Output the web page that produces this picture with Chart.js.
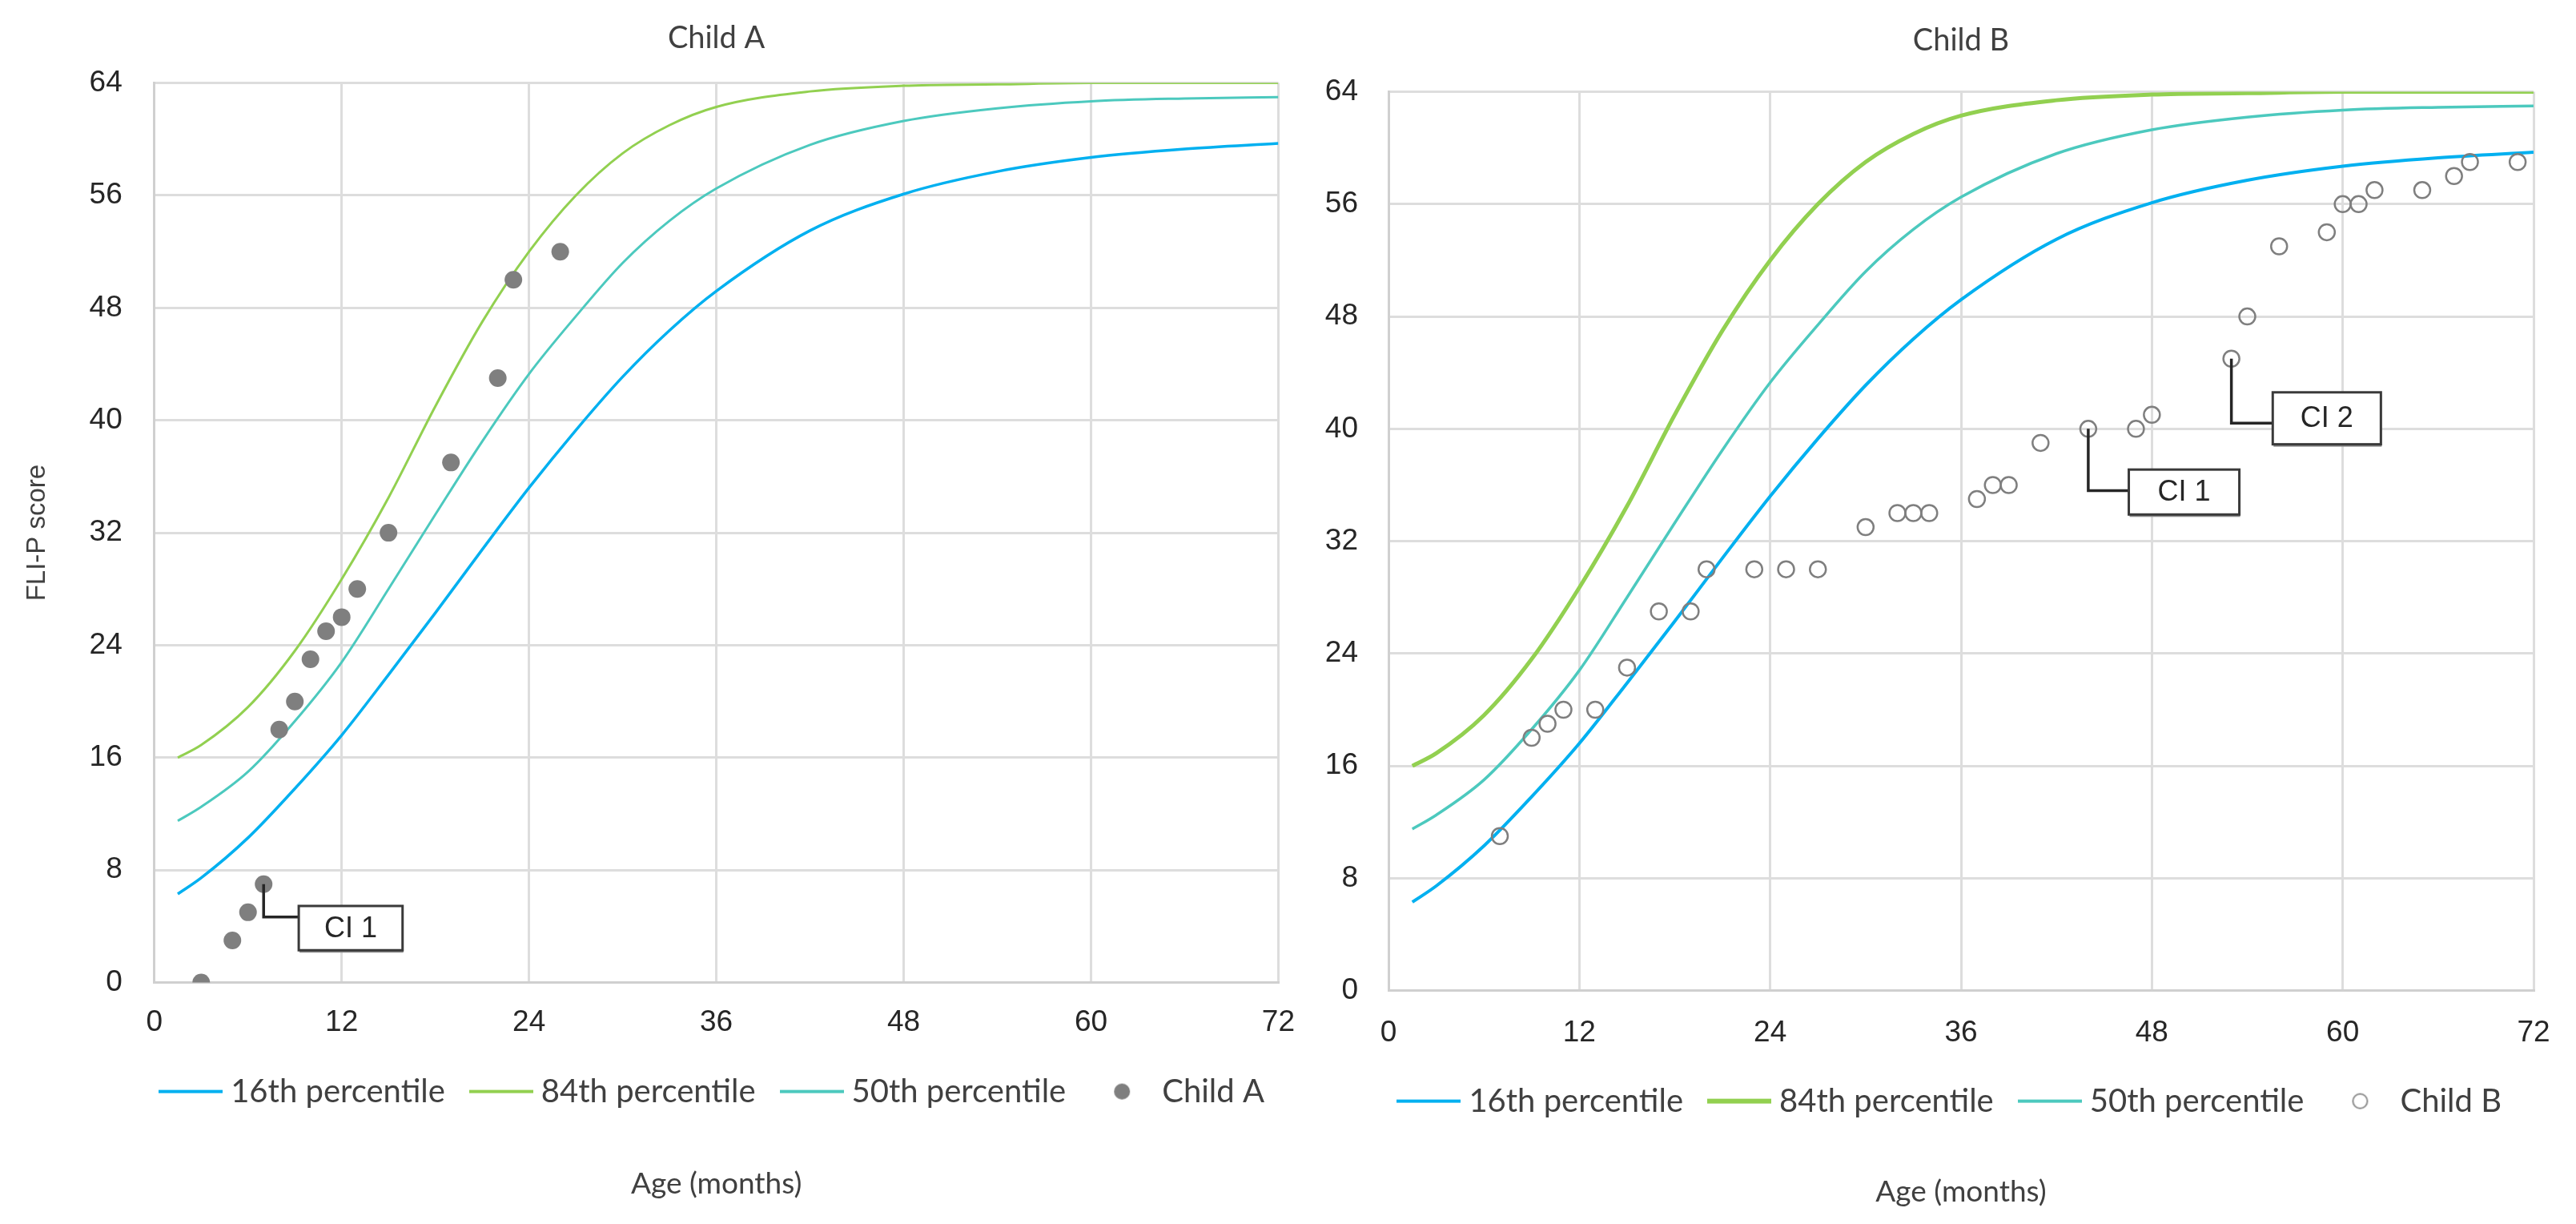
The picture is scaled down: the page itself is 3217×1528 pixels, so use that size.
<!DOCTYPE html>
<html>
<head>
<meta charset="utf-8">
<script src="https://cdn.jsdelivr.net/npm/chart.js@4.4.1/dist/chart.umd.min.js"></script>
<style>
body { margin: 0; background: #fff; }
#wrap { display: flex; width: 3217px; height: 1528px; }
canvas { display: block; }
</style>
</head>
<body>
<div id="wrap">
  <canvas id="chartA" width="1645" height="1528"></canvas>
  <canvas id="chartB" width="1572" height="1528"></canvas>
</div>
<script>
// reference curves, same for both children
const months = [1.5, 3, 6, 9, 12, 15, 18, 21, 24, 27, 30, 33, 36, 42, 48, 54, 60, 66, 72];
const p16 = [6.3, 7.45, 10.3, 13.8, 17.6, 21.9, 26.3, 30.8, 35.2, 39.3, 43.1, 46.4, 49.2, 53.5, 56.1, 57.7, 58.7, 59.3, 59.7];
const p84 = [16.0, 16.9, 19.6, 23.6, 28.7, 34.5, 41.0, 47.0, 52.0, 56.0, 59.0, 61.0, 62.3, 63.4, 63.8, 63.9, 64.0, 64.0, 64.0];
const p50 = [11.5, 12.5, 15.0, 18.6, 22.8, 28.0, 33.3, 38.5, 43.3, 47.4, 51.2, 54.2, 56.5, 59.6, 61.3, 62.2, 62.7, 62.9, 63.0];

const childAAge = [3, 5, 6, 7, 8, 9, 10, 11, 12, 13, 15, 19, 22, 23, 26];
const childAScore = [0, 3, 5, 7, 18, 20, 23, 25, 26, 28, 32, 37, 43, 50, 52];

const childBAge = [7, 9, 10, 11, 13, 15, 17, 19, 20, 23, 25, 27, 30, 32, 33, 34, 37, 38, 39, 41, 44, 47, 48, 53, 54, 56, 59, 60, 61, 62, 65, 67, 68, 71];
const childBScore = [11, 18, 19, 20, 20, 23, 27, 27, 30, 30, 30, 30, 33, 34, 34, 34, 35, 36, 36, 39, 40, 40, 41, 45, 48, 53, 54, 56, 56, 57, 57, 58, 59, 59];

const xTicks = [0, 12, 24, 36, 48, 60, 72];
const yTicks = [0, 8, 16, 24, 32, 40, 48, 56, 64];

// callouts: label, point it hangs from, elbow height, box [x0, x1, yTop, yBottom] in data units
const calloutsA = [
    {text: 'CI 1', point: [7, 7], elbow: 4.67, box: [9.25, 15.9, 5.45, 2.3]}
];
const calloutsB = [
    {text: 'CI 1', point: [44, 40], elbow: 35.6, box: [46.55, 53.5, 37.1, 33.9]},
    {text: 'CI 2', point: [53, 45], elbow: 40.4, box: [55.6, 62.4, 42.6, 38.9]}
];

const BLUE = '#00B0F0';
const GREEN = '#92D050';
const TEAL = '#4CC9BE';
const GREY = '#7F7F7F';
const TXT = '#404040';

function lineIcon(color, width) {
    const c = document.createElement('canvas');
    c.width = 80; c.height = 8;
    const g = c.getContext('2d');
    g.fillStyle = color;
    g.fillRect(0, (8 - width) / 2, 80, width);
    return c;
}

function dotIcon(filled) {
    const c = document.createElement('canvas');
    c.width = 24; c.height = 24;
    const g = c.getContext('2d');
    g.beginPath();
    g.arc(12, 12, filled ? 10 : 9, 0, Math.PI * 2);
    if (filled) {
        g.fillStyle = GREY;
        g.fill();
    } else {
        g.strokeStyle = '#8C8C8C';
        g.lineWidth = 2;
        g.stroke();
    }
    return c;
}

function calloutPlugin(items) {
    return {
        id: 'callouts',
        afterDatasetsDraw(chart) {
            const {ctx, scales: {x, y}} = chart;
            ctx.save();
            items.forEach(c => {
                const px = x.getPixelForValue(c.point[0]);
                const py = y.getPixelForValue(c.point[1]);
                const ey = y.getPixelForValue(c.elbow);
                const bx0 = x.getPixelForValue(c.box[0]);
                const bx1 = x.getPixelForValue(c.box[1]);
                const by0 = y.getPixelForValue(c.box[2]);
                const by1 = y.getPixelForValue(c.box[3]);
                ctx.strokeStyle = '#262626';
                ctx.lineWidth = 3.5;
                ctx.beginPath();
                ctx.moveTo(px, py);
                ctx.lineTo(px, ey);
                ctx.lineTo(bx0, ey);
                ctx.stroke();
                // box with a small drop shadow
                ctx.fillStyle = '#8a8a8a';
                ctx.fillRect(bx0 + 1, by0 + 3, bx1 - bx0, by1 - by0);
                ctx.fillStyle = '#fff';
                ctx.fillRect(bx0, by0, bx1 - bx0, by1 - by0);
                ctx.strokeStyle = '#3a3a3a';
                ctx.lineWidth = 3;
                ctx.strokeRect(bx0, by0, bx1 - bx0, by1 - by0);
                ctx.fillStyle = '#262626';
                ctx.font = '36px "Liberation Sans", Arial, sans-serif';
                ctx.textAlign = 'center';
                ctx.textBaseline = 'middle';
                ctx.fillText(c.text, (bx0 + bx1) / 2, (by0 + by1) / 2 + 1);
            });
            ctx.restore();
        }
    };
}

function pts(xs, ys) {
    return xs.map((v, i) => ({x: v, y: ys[i]}));
}

function makeChart(id, s) {
    const icons = [lineIcon(BLUE, s.legendLine[0]), lineIcon(GREEN, s.legendLine[1]), lineIcon(TEAL, s.legendLine[2]), dotIcon(s.filled)];
    const yScale = {
        type: 'linear', min: 0, max: 64,
        afterBuildTicks: axis => { axis.ticks = yTicks.map(v => ({value: v})); },
        ticks: {padding: s.yPad, color: '#262626', font: {family: 'Liberation Sans', size: 37}},
        grid: {color: '#DDDDDD', lineWidth: 3, drawTicks: false},
        border: {color: '#D0D0D0', width: 3}
    };
    if (s.yTitle) {
        yScale.title = {display: true, text: s.yTitle, color: TXT,
                        font: {family: 'Liberation Sans', size: 33}, padding: {top: 17, bottom: 5}};
    }
    if (s.yWidth) {
        yScale.afterFit = scale => { scale.width = s.yWidth; };
    }
    return new Chart(document.getElementById(id), {
        type: 'line',
        data: {
            datasets: [
                {label: '16th percentile', data: pts(months, p16), borderColor: BLUE, backgroundColor: BLUE,
                 borderWidth: s.lw[0], pointRadius: 0, cubicInterpolationMode: 'monotone'},
                {label: '84th percentile', data: pts(months, p84), borderColor: GREEN, backgroundColor: GREEN,
                 borderWidth: s.lw[1], pointRadius: 0, cubicInterpolationMode: 'monotone'},
                {label: '50th percentile', data: pts(months, p50), borderColor: TEAL, backgroundColor: TEAL,
                 borderWidth: s.lw[2], pointRadius: 0, cubicInterpolationMode: 'monotone'},
                {label: s.name, data: pts(s.ages, s.scores), showLine: false, order: -1,
                 pointRadius: s.filled ? 11 : 10,
                 pointBackgroundColor: s.filled ? GREY : 'rgba(0,0,0,0)',
                 pointBorderColor: GREY, pointBorderWidth: s.filled ? 0 : 2.5,
                 backgroundColor: GREY, borderColor: GREY}
            ]
        },
        options: {
            responsive: false,
            animation: false,
            events: [],
            layout: {padding: {left: 10, right: s.rightPad, top: 0, bottom: 0}},
            plugins: {
                title: {display: true, text: s.name, fullSize: false, color: TXT,
                        font: {family: 'Lato', size: 38, weight: 'normal'}, padding: s.titlePad},
                subtitle: {display: true, text: 'Age (months)', position: 'bottom', fullSize: false, color: TXT,
                           font: {family: 'Lato', size: 37}, padding: s.subPad},
                legend: {
                    position: 'bottom',
                    align: 'end',
                    labels: {
                        usePointStyle: true,
                        pointStyleWidth: 60,
                        padding: 40,
                        color: TXT,
                        font: {family: 'Lato', size: 40},
                        sort: (a, b) => a.datasetIndex - b.datasetIndex,
                        generateLabels: chart => Chart.defaults.plugins.legend.labels.generateLabels(chart)
                            .map(item => { item.pointStyle = icons[item.datasetIndex]; return item; })
                    }
                },
                tooltip: {enabled: false}
            },
            scales: {
                x: {
                    type: 'linear', min: 0, max: 72,
                    afterBuildTicks: axis => { axis.ticks = xTicks.map(v => ({value: v})); },
                    afterFit: scale => { scale.height = s.xHeight; },
                    ticks: {padding: s.xPad, maxRotation: 0, color: '#262626', font: {family: 'Liberation Sans', size: 37}},
                    grid: {color: '#DDDDDD', lineWidth: 3, drawTicks: false},
                    border: {color: '#D0D0D0', width: 3}
                },
                y: yScale
            }
        },
        plugins: [calloutPlugin(s.callouts)]
    });
}

makeChart('chartA', {
    name: 'Child A', ages: childAAge, scores: childAScore, filled: true,
    yTitle: 'FLI-P score', yPad: 40, yWidth: null, xPad: 28, xHeight: 76, rightPad: 26,
    titlePad: {top: 25, bottom: 33}, subPad: {top: 63, bottom: 28},
    lw: [3.5, 3, 3], legendLine: [4, 4, 4], callouts: calloutsA
});

makeChart('chartB', {
    name: 'Child B', ages: childBAge, scores: childBScore, filled: false,
    yTitle: null, yPad: 38, yWidth: 79, xPad: 31, xHeight: 78, rightPad: 53,
    titlePad: {top: 28, bottom: 41}, subPad: {top: 61, bottom: 18},
    lw: [4, 5, 3.5], legendLine: [4, 6, 4], callouts: calloutsB
});
</script>
</body>
</html>
